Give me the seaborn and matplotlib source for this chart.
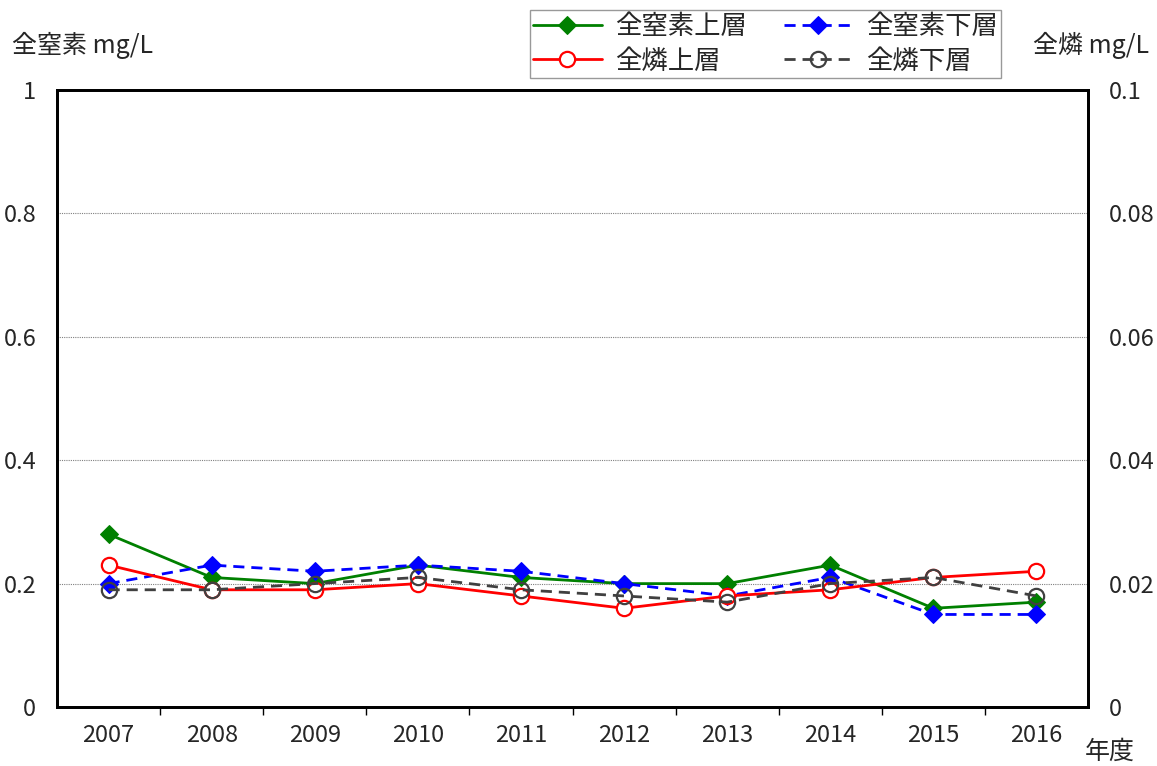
import matplotlib
matplotlib.use("Agg")
import matplotlib.pyplot as plt
from matplotlib.ticker import FixedLocator, FuncFormatter
import seaborn as sns
import pandas as pd

sns.set_theme(style="white")
plt.rcParams['font.family'] = ['Noto Sans CJK JP', 'DejaVu Sans']

years = ["2007", "2008", "2009", "2010", "2011", "2012", "2013", "2014", "2015", "2016"]
tn_upper = [0.28, 0.21, 0.20, 0.23, 0.21, 0.20, 0.20, 0.23, 0.16, 0.17]
tn_lower = [0.20, 0.23, 0.22, 0.23, 0.22, 0.20, 0.18, 0.21, 0.15, 0.15]
tp_upper = [0.023, 0.019, 0.019, 0.020, 0.018, 0.016, 0.018, 0.019, 0.021, 0.022]
tp_lower = [0.019, 0.019, 0.020, 0.021, 0.019, 0.018, 0.017, 0.020, 0.021, 0.018]

left_ticks = [0, 0.2, 0.4, 0.6, 0.8, 1.0]
right_ticks = [0, 0.02, 0.04, 0.06, 0.08, 0.1]

x = list(range(len(years)))
df = pd.DataFrame({"x": x, "tn_u": tn_upper, "tn_l": tn_lower,
                   "tp_u": tp_upper, "tp_l": tp_lower})

fig = plt.figure(figsize=(11.57, 7.66), dpi=100)
ax = fig.add_axes([0.0493, 0.077, 0.8911, 0.8055])
ax2 = ax.twinx()

# nitrogen on the left axis
sns.lineplot(data=df, x="x", y="tn_u", ax=ax, color="#008000", lw=2,
             marker="D", markersize=9, markeredgecolor="#008000", label="全窒素上層")
sns.lineplot(data=df, x="x", y="tn_l", ax=ax, color="#0000FF", lw=2,
             linestyle=(0, (4, 2.5)), marker="D", markersize=9,
             markeredgecolor="#0000FF", label="全窒素下層")
# phosphorus on the right axis
sns.lineplot(data=df, x="x", y="tp_u", ax=ax2, color="#FF0000", lw=2,
             marker="o", markersize=11, markerfacecolor="white",
             markeredgecolor="#FF0000", markeredgewidth=1.6, label="全燐上層")
sns.lineplot(data=df, x="x", y="tp_l", ax=ax2, color="#404040", lw=2,
             linestyle=(0, (4, 2.5)), marker="o", markersize=11,
             markerfacecolor="none", markeredgecolor="#404040",
             markeredgewidth=1.6, label="全燐下層")

ax.set_xlim(-0.5, len(years) - 0.5)
ax.set_ylim(0, 1)
ax2.set_ylim(0, 0.1)

ax.set_xticks(x)
ax.set_xticklabels(years, fontsize=17)
ax.xaxis.set_minor_locator(FixedLocator([i + 0.5 for i in range(len(years) - 1)]))
ax.tick_params(axis="x", which="major", length=0, pad=12)
ax.tick_params(axis="x", which="minor", length=6, width=1, direction="out", color="black", bottom=True)

ax.set_yticks(left_ticks)
ax.yaxis.set_major_formatter(FuncFormatter(lambda v, p: "0" if v == 0 else ("1" if v == 1 else f"{v:g}")))
ax.tick_params(axis="y", length=0, labelsize=17, pad=15)
ax2.set_yticks(right_ticks)
ax2.yaxis.set_major_formatter(FuncFormatter(lambda v, p: "0" if v == 0 else f"{v:g}"))
ax2.tick_params(axis="y", length=0, labelsize=17, pad=15)

ax.grid(axis="y", color="#808080", linestyle=(0, (1, 1)), linewidth=0.8)
ax.set_axisbelow(True)
ax.set_xlabel("")
ax.set_ylabel("")
ax2.set_ylabel("")

for a in (ax, ax2):
    for s in a.spines.values():
        s.set_color("black")
        s.set_linewidth(2)

ax.get_legend().remove()
ax2.get_legend().remove()
h1, l1 = ax.get_legend_handles_labels()
h2, l2 = ax2.get_legend_handles_labels()
handles = [h1[0], h2[0], h1[1], h2[1]]
labels = [l1[0], l2[0], l1[1], l2[1]]
leg = fig.legend(handles, labels, ncol=2, loc="upper left",
                 bbox_to_anchor=(530 / 1157, 1 - 10 / 766), borderaxespad=0,
                 fontsize=19, frameon=True, fancybox=False, edgecolor="#808080",
                 handlelength=2.6, columnspacing=1.4, borderpad=0.12,
                 labelspacing=0.28, handletextpad=0.5)
leg.get_frame().set_linewidth(1)

fig.text(12 / 1157, 1 - 45 / 766, "全窒素 mg/L", fontsize=18, va="center", ha="left")
fig.text(1033 / 1157, 1 - 45 / 766, "全燐 mg/L", fontsize=18, va="center", ha="left")
fig.text(1085 / 1157, 1 - 752 / 766, "年度", fontsize=18, va="center", ha="left")

fig.savefig("out.png", dpi=100)
